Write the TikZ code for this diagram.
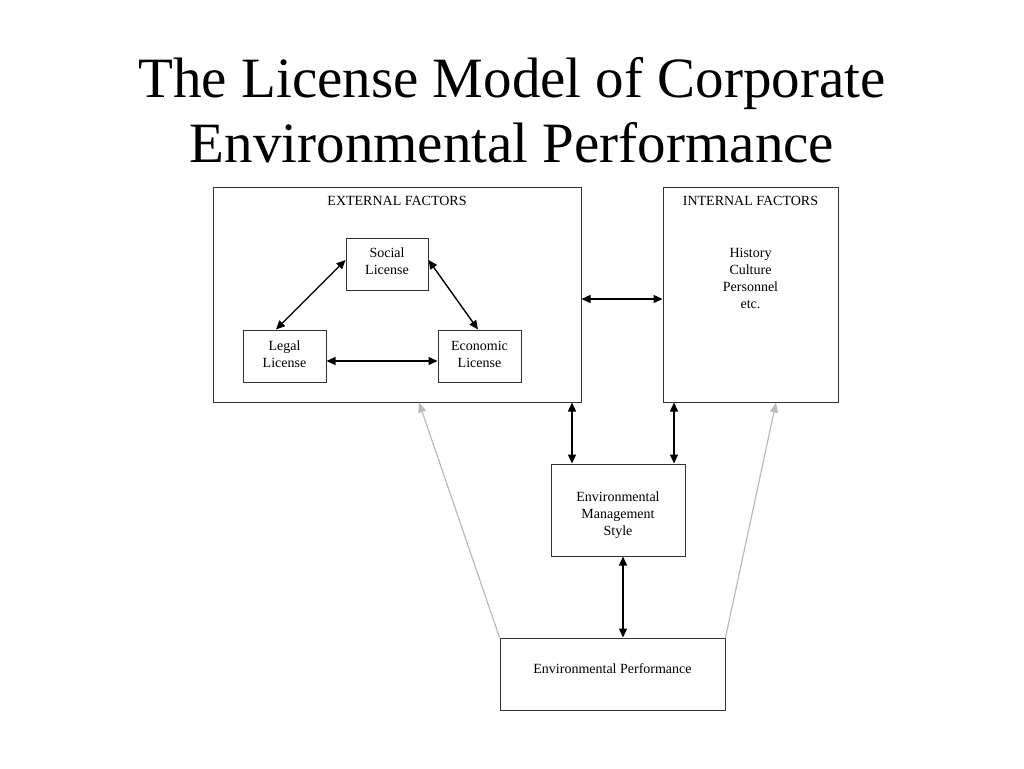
\documentclass[tikz,border=0pt]{standalone}
\usepackage{fontspec}
\setmainfont{Liberation Serif}
\usetikzlibrary{arrows.meta,calc}
\definecolor{boxline}{HTML}{333333}
\definecolor{greyarrow}{HTML}{BBBBBB}
\begin{document}
\begin{tikzpicture}[x=1pt,y=-1pt,
  box/.style={draw=boxline,line width=1pt,rectangle,inner sep=0pt,align=center,font=\fontsize{14}{17}\selectfont},
  lbl/.style={inner sep=0pt,align=center,font=\fontsize{14}{17}\selectfont},
  dbl/.style={line width=1.4pt,{Triangle[length=9pt,width=8pt]}-{Triangle[length=9pt,width=8pt]}},
  grey/.style={line width=1.2pt,draw=greyarrow,-{Triangle[length=10pt,width=8pt]}}]
\useasboundingbox (0,0) rectangle (1024,768);
\node[inner sep=0pt,align=center,font=\fontsize{57}{65}\selectfont] (title) at (512,110)
  {The License Model of Corporate\\Environmental Performance};
\node[box,minimum width=368pt,minimum height=215pt] (ext) at (397,294.5) {};
\node[box,minimum width=175pt,minimum height=215pt] (int) at (750.5,294.5) {};
\node[lbl] (extl) at (397,201) {EXTERNAL FACTORS};
\node[lbl] (intl) at (750.5,201) {INTERNAL FACTORS};
\node[lbl] (intlist) at (750.5,278) {History\\Culture\\Personnel\\etc.};
\node[box,minimum width=82pt,minimum height=52pt] (soc) at (387,264) {};
\node[lbl] (socl) at (387,261.5) {Social\\License};
\node[box,minimum width=83pt,minimum height=52pt] (leg) at (284.5,356) {};
\node[lbl] (legl) at (284.5,354) {Legal\\License};
\node[box,minimum width=83pt,minimum height=52pt] (eco) at (479.5,356) {};
\node[lbl] (ecol) at (479.5,354) {Economic\\License};
\node[box,minimum width=134pt,minimum height=92pt] (ems) at (618,510) {};
\node[lbl] (emsl) at (618,515) {Environmental\\Management\\Style};
\node[box,minimum width=225pt,minimum height=72pt] (ep) at (612.5,674) {};
\node[lbl] (epl) at (612.5,669) {Environmental Performance};
\coordinate (hy) at (0,299);
\coordinate (ly) at (0,361);
\coordinate (xa) at (572,0);
\coordinate (xb) at (674,0);
\coordinate (xc) at (623,0);
\coordinate (xg1) at (419,0);
\coordinate (xg2) at (776,0);
\draw[dbl] (ext.east |- hy) -- (int.west |- hy);
\draw[dbl] ($(soc.west)+(0,-4)$) -- ($(leg.north)+(-8.5,0)$);
\draw[dbl] ($(soc.east)+(0,-4)$) -- ($(eco.north)+(-1.5,0)$);
\draw[dbl] (leg.east |- ly) -- (eco.west |- ly);
\draw[dbl] (ext.south -| xa) -- (ems.north -| xa);
\draw[dbl] (int.south -| xb) -- (ems.north -| xb);
\draw[dbl] (ems.south -| xc) -- (ep.north -| xc);
\draw[grey] (ep.north west) -- (ext.south -| xg1);
\draw[grey] (ep.north east) -- (int.south -| xg2);
\end{tikzpicture}
\end{document}
